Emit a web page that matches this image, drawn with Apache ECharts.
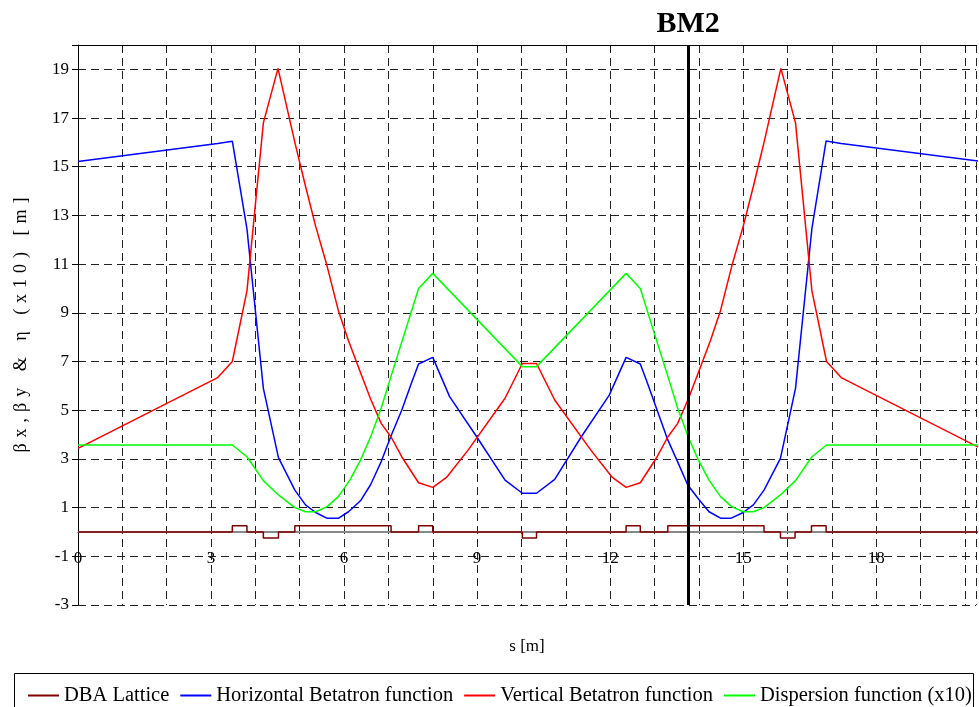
<!DOCTYPE html>
<html>
<head>
<meta charset="utf-8">
<script src="https://cdn.jsdelivr.net/npm/echarts@6/dist/echarts.min.js"></script>
<style>
  html, body { margin: 0; padding: 0; background: #fff; }
  #chart { width: 979px; height: 707px; }
</style>
</head>
<body>
<div id="chart"></div>
<script>
// lattice elements: start position and height (step)
const latticeS = [0, 3.48, 3.81, 4.18, 4.52, 4.89, 7.06, 7.68, 8.0, 10.02, 10.34, 12.36, 12.68, 13.3, 15.47, 15.84, 16.17, 16.54, 16.87, 20.36];
const latticeH = [0, 0.25, 0, -0.25, 0, 0.25, 0, 0.25, 0, -0.25, 0, 0.25, 0, 0.25, 0, -0.25, 0, 0.25, 0, 0];

// horizontal betatron function [s, beta]
const hBeta = [
  [0, 15.22], [3.15, 15.95], [3.48, 16.05], [3.81, 12.45], [4.18, 5.9], [4.52, 3.05],
  [4.89, 1.72], [5.13, 1.11], [5.36, 0.8], [5.62, 0.56], [5.87, 0.56], [6.1, 0.83],
  [6.37, 1.28], [6.6, 1.95], [6.84, 2.9], [7.06, 3.95], [7.3, 5.0], [7.53, 6.17],
  [7.68, 6.9], [8.0, 7.17], [8.38, 5.56], [8.99, 3.91], [9.63, 2.13], [10.02, 1.59],
  [10.34, 1.59], [10.75, 2.16], [11.35, 3.91], [11.98, 5.62], [12.36, 7.17], [12.68, 6.9],
  [12.83, 6.17], [13.06, 5.0], [13.3, 3.78], [13.52, 2.89], [13.75, 1.93], [14.01, 1.31],
  [14.23, 0.83], [14.5, 0.56], [14.72, 0.56], [15.0, 0.8], [15.23, 1.11], [15.47, 1.72],
  [15.84, 3.02], [16.18, 5.9], [16.55, 12.47], [16.87, 16.06], [17.21, 15.95], [20.36, 15.22]
];

// vertical betatron function [s, beta]
const vBeta = [
  [0, 3.43], [3.15, 6.34], [3.48, 7.0], [3.81, 9.9], [4.18, 16.8], [4.51, 19.04],
  [4.89, 16.0], [5.13, 14.2], [5.36, 12.55], [5.62, 10.9], [5.87, 9.1], [6.1, 7.85],
  [6.37, 6.55], [6.6, 5.45], [6.84, 4.45], [7.06, 3.9], [7.3, 3.09], [7.68, 2.02],
  [8.0, 1.83], [8.31, 2.24], [8.8, 3.37], [9.63, 5.49], [10.02, 6.92], [10.34, 6.92],
  [10.75, 5.42], [11.56, 3.37], [12.05, 2.24], [12.36, 1.83], [12.68, 2.02], [13.06, 3.09],
  [13.3, 3.9], [13.52, 4.45], [13.76, 5.45], [13.99, 6.55], [14.26, 7.85], [14.49, 9.1],
  [14.74, 10.9], [15.0, 12.55], [15.23, 14.2], [15.47, 16.0], [15.85, 19.04], [16.18, 16.8],
  [16.55, 9.9], [16.88, 7.0], [17.21, 6.34], [20.36, 3.43]
];

// dispersion function x10 [s, eta*10]
const disp = [
  [0, 3.57], [3.48, 3.57], [3.81, 3.09], [4.18, 2.11], [4.52, 1.52], [4.89, 1.0],
  [5.13, 0.83], [5.36, 0.83], [5.62, 1.04], [5.87, 1.45], [6.13, 2.13], [6.37, 2.95],
  [6.6, 3.91], [6.84, 5.1], [7.06, 6.4], [7.68, 10.0], [8.0, 10.62], [10.02, 6.79],
  [10.34, 6.79], [12.36, 10.62], [12.68, 10.0], [13.3, 6.4], [13.52, 5.1], [13.76, 3.91],
  [13.99, 2.95], [14.23, 2.13], [14.49, 1.45], [14.74, 1.04], [15.0, 0.83], [15.23, 0.83],
  [15.47, 1.0], [15.84, 1.52], [16.18, 2.11], [16.55, 3.09], [16.88, 3.57], [20.36, 3.57]
];

const bm2S = 13.76;
const xLabels = [0, 3, 6, 9, 12, 15, 18];
const yLabels = [-3, -1, 1, 3, 5, 7, 9, 11, 13, 15, 17, 19];
const yTitle = 'βx,βy & η (x10) [m]';

const seriesNames = ['DBA Lattice', 'Horizontal Betatron function', 'Vertical Betatron function', 'Dispersion function (x10)'];

const FONT = 'Liberation Serif';
const X_MAX = 20.25;
const lattice = latticeS.map((s, i) => [s, latticeH[i]]);

// the rotated title in the original is drawn with wide letter spacing
const yTitleSpaced = yTitle.split('').map(c => '{c|' + c + '}').join('');

const chart = echarts.init(document.getElementById('chart'));

const dashed = { show: true, lineStyle: { color: '#222', type: [8, 5], width: 1 } };

chart.setOption({
  animation: false,
  backgroundColor: '#fff',
  textStyle: { fontFamily: FONT, color: '#000' },
  grid: { left: 78, right: 0, top: 45, bottom: 102 },
  legend: {
    left: 28, top: 685, width: 951, padding: 0,
    icon: 'rect', itemWidth: 31, itemHeight: 2, itemGap: 11,
    textStyle: { fontFamily: FONT, fontSize: 20.5, color: '#000' },
    data: seriesNames
  },
  graphic: [{
    type: 'rect', silent: true,
    shape: { x: 14.5, y: 673.5, width: 959, height: 60 },
    style: { fill: 'none', stroke: '#000', lineWidth: 1 }
  }],
  xAxis: [{
    type: 'value', min: 0, max: X_MAX, interval: 1,
    name: 's [m]', nameLocation: 'middle', nameGap: 33,
    nameTextStyle: { fontFamily: FONT, fontSize: 17, color: '#000' },
    axisLine: { show: true, lineStyle: { color: '#000', width: 1 } },
    axisTick: { show: false },
    axisLabel: {
      margin: -46, verticalAlign: 'middle',
      fontFamily: FONT, fontSize: 17, color: '#000',
      formatter: v => (xLabels.indexOf(v) >= 0 ? String(v) : '')
    },
    splitLine: dashed
  }, {
    // top frame line only
    type: 'value', position: 'top', min: 0, max: X_MAX,
    axisLine: { show: true, lineStyle: { color: '#000', width: 1 } },
    axisTick: { show: false }, axisLabel: { show: false }, splitLine: { show: false }
  }],
  yAxis: {
    type: 'value', min: -3, max: 20, interval: 2,
    name: yTitleSpaced, nameLocation: 'middle', nameGap: 48, nameRotate: 90,
    nameTextStyle: {
      fontFamily: FONT, fontSize: 18, color: '#000',
      rich: { c: { fontFamily: FONT, fontSize: 18, color: '#000', padding: [0, 3, 0, 3] } }
    },
    axisLine: { show: true, lineStyle: { color: '#000', width: 1 } },
    axisTick: { show: true, inside: false, length: 6, lineStyle: { color: '#000' } },
    axisLabel: {
      margin: 9, fontFamily: FONT, fontSize: 17, color: '#000',
      formatter: v => (yLabels.indexOf(v) >= 0 ? String(v) : '')
    },
    splitLine: dashed
  },
  series: [
    {
      name: seriesNames[0], type: 'line', data: lattice, step: 'end',
      symbol: 'none', z: 3,
      lineStyle: { color: '#800000', width: 1.5 }, itemStyle: { color: '#800000' },
      markLine: {
        silent: true, z: 1, symbol: ['none', 'none'],
        label: { show: false },
        data: [{ yAxis: 0, lineStyle: { color: '#888', width: 2, type: 'solid' } }]
      }
    },
    {
      name: seriesNames[1], type: 'line', data: hBeta, symbol: 'none',
      lineStyle: { color: '#0000ff', width: 1.5 }, itemStyle: { color: '#0000ff' }
    },
    {
      name: seriesNames[2], type: 'line', data: vBeta, symbol: 'none',
      lineStyle: { color: '#ff0000', width: 1.5 }, itemStyle: { color: '#ff0000' }
    },
    {
      name: seriesNames[3], type: 'line', data: disp, symbol: 'none',
      lineStyle: { color: '#00ff00', width: 1.5 }, itemStyle: { color: '#00ff00' },
      markLine: {
        silent: true, symbol: ['none', 'none'],
        lineStyle: { color: '#000', width: 3, type: 'solid' },
        label: {
          show: true, position: 'end', distance: 6, formatter: 'BM2',
          fontFamily: FONT, fontSize: 30, fontWeight: 'bold', color: '#000'
        },
        data: [{ xAxis: bm2S }]
      }
    }
  ]
});
</script>
</body>
</html>
